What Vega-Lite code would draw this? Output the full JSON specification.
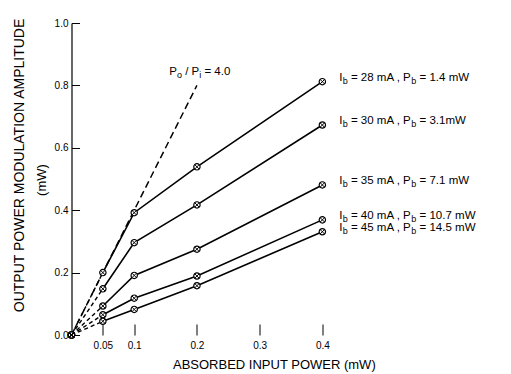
{
  "$schema": "https://vega.github.io/schema/vega-lite/v6.json",
  "width": 439,
  "height": 312,
  "autosize": {"type": "none"},
  "padding": {"left": 71.5, "top": 23, "right": 0.5, "bottom": 39},
  "background": "white",
  "config": {
    "view": {"stroke": null},
    "font": "Liberation Sans",
    "axis": {"grid": false, "labelFont": "Liberation Sans", "titleFont": "Liberation Sans", "labelColor": "black", "titleColor": "black", "tickColor": "black", "domainColor": "black"},
    "text": {"font": "Liberation Sans", "color": "black"}
  },
  "datasets": {
    "pts": [
      {"s": "28", "x": 0, "y": 0}, {"s": "28", "x": 0.05, "y": 0.200}, {"s": "28", "x": 0.1, "y": 0.392}, {"s": "28", "x": 0.2, "y": 0.539}, {"s": "28", "x": 0.4, "y": 0.812},
      {"s": "30", "x": 0, "y": 0}, {"s": "30", "x": 0.05, "y": 0.148}, {"s": "30", "x": 0.1, "y": 0.296}, {"s": "30", "x": 0.2, "y": 0.417}, {"s": "30", "x": 0.4, "y": 0.673},
      {"s": "35", "x": 0, "y": 0}, {"s": "35", "x": 0.05, "y": 0.093}, {"s": "35", "x": 0.1, "y": 0.191}, {"s": "35", "x": 0.2, "y": 0.275}, {"s": "35", "x": 0.4, "y": 0.481},
      {"s": "40", "x": 0, "y": 0}, {"s": "40", "x": 0.05, "y": 0.065}, {"s": "40", "x": 0.1, "y": 0.118}, {"s": "40", "x": 0.2, "y": 0.189}, {"s": "40", "x": 0.4, "y": 0.369},
      {"s": "45", "x": 0, "y": 0}, {"s": "45", "x": 0.05, "y": 0.044}, {"s": "45", "x": 0.1, "y": 0.082}, {"s": "45", "x": 0.2, "y": 0.158}, {"s": "45", "x": 0.4, "y": 0.331}
    ],
    "labels": [
      {"s": "28", "x": 0.4, "y": 0.812, "mid": "= 28 mA , P", "tail": "= 1.4 mW"},
      {"s": "30", "x": 0.4, "y": 0.673, "mid": "= 30 mA , P", "tail": "= 3.1mW"},
      {"s": "35", "x": 0.4, "y": 0.481, "mid": "= 35 mA , P", "tail": "= 7.1 mW"},
      {"s": "40", "x": 0.4, "y": 0.369, "mid": "= 40 mA , P", "tail": "= 10.7 mW"},
      {"s": "45", "x": 0.4, "y": 0.331, "mid": "= 45 mA , P", "tail": "= 14.5 mW"}
    ],
    "ratio": [{"x": 0, "y": 0}, {"x": 0.2, "y": 0.8}]
  },
  "encoding": {
    "x": {
      "field": "x", "type": "quantitative",
      "scale": {"domain": [0, 0.7], "nice": false, "zero": false},
      "axis": {
        "values": [0.05, 0.1, 0.2, 0.3, 0.4], "format": "~g", "domain": false,
        "tickSize": -11, "tickWidth": 1, "labelFontSize": 10, "labelPadding": 16,
        "title": "ABSORBED INPUT POWER (mW)", "titleFontSize": 13, "titleFontWeight": "normal",
        "titleX": 101, "titleY": 29.5, "titleAlign": "left", "titleBaseline": "middle"
      }
    },
    "y": {
      "field": "y", "type": "quantitative",
      "scale": {"domain": [0, 1], "nice": false},
      "axis": {
        "values": [0, 0.2, 0.4, 0.6, 0.8, 1.0], "format": ".1f", "domain": true, "domainWidth": 1.2,
        "tickSize": -8, "tickWidth": 1, "labelFontSize": 10, "labelPadding": 11.5,
        "title": "OUTPUT POWER MODULATION AMPLITUDE", "titleFontSize": 14, "titleFontWeight": "normal",
        "titleAngle": -90, "titleX": -52, "titleY": 142, "titleAlign": "center", "titleBaseline": "middle"
      }
    }
  },
  "layer": [
    {
      "data": {"values": [{}]},
      "mark": {"type": "rule", "color": "black", "strokeWidth": 1},
      "encoding": {"x": {"datum": 0, "type": "quantitative"}, "x2": {"datum": 0.7}, "y": {"datum": 1, "type": "quantitative"}}
    },
    {
      "data": {"values": [{}]},
      "mark": {"type": "rule", "color": "black", "strokeWidth": 1.2},
      "encoding": {"x": {"datum": 0, "type": "quantitative"}, "x2": {"datum": 0.46}, "y": {"datum": 0, "type": "quantitative"}}
    },
    {
      "data": {"name": "ratio"},
      "mark": {"type": "line", "color": "black", "strokeWidth": 1.5, "strokeDash": [7, 4]}
    },
    {
      "data": {"name": "pts"},
      "transform": [{"filter": "datum.x <= 0.05"}],
      "mark": {"type": "line", "color": "black", "strokeWidth": 1.4, "strokeDash": [4, 3]},
      "encoding": {"detail": {"field": "s"}}
    },
    {
      "data": {"name": "pts"},
      "transform": [{"filter": "datum.x >= 0.05"}],
      "mark": {"type": "line", "color": "black", "strokeWidth": 1.6},
      "encoding": {"detail": {"field": "s"}}
    },
    {
      "data": {"name": "pts"},
      "mark": {"type": "point", "shape": "circle", "filled": true, "fill": "white", "stroke": "black", "strokeWidth": 1.2, "size": 40, "opacity": 1}
    },
    {
      "data": {"name": "pts"},
      "mark": {"type": "point", "shape": "M-0.7,-0.7L0.7,0.7M-0.7,0.7L0.7,-0.7", "filled": false, "stroke": "black", "strokeWidth": 1, "size": 40, "opacity": 1}
    },
    {
      "data": {"name": "labels"},
      "mark": {"type": "text", "text": "I", "align": "left", "baseline": "middle", "dx": 17, "dy": -4, "fontSize": 11.5}
    },
    {
      "data": {"name": "labels"},
      "mark": {"type": "text", "text": "b", "align": "left", "baseline": "middle", "dx": 20.4, "dy": -1, "fontSize": 9}
    },
    {
      "data": {"name": "labels"},
      "mark": {"type": "text", "align": "left", "baseline": "middle", "dx": 28.6, "dy": -4, "fontSize": 11.5},
      "encoding": {"text": {"field": "mid"}}
    },
    {
      "data": {"name": "labels"},
      "mark": {"type": "text", "text": "b", "align": "left", "baseline": "middle", "dx": 89, "dy": -1, "fontSize": 9}
    },
    {
      "data": {"name": "labels"},
      "mark": {"type": "text", "align": "left", "baseline": "middle", "dx": 97.2, "dy": -4, "fontSize": 11.5},
      "encoding": {"text": {"field": "tail"}}
    },
    {
      "data": {"name": "ratio"},
      "transform": [{"filter": "datum.x == 0.2"}],
      "mark": {"type": "text", "text": "P", "align": "left", "baseline": "middle", "dx": -27.7, "dy": -13, "fontSize": 11.5}
    },
    {
      "data": {"name": "ratio"},
      "transform": [{"filter": "datum.x == 0.2"}],
      "mark": {"type": "text", "text": "o", "align": "left", "baseline": "middle", "dx": -20, "dy": -10, "fontSize": 9}
    },
    {
      "data": {"name": "ratio"},
      "transform": [{"filter": "datum.x == 0.2"}],
      "mark": {"type": "text", "text": "/ P", "align": "left", "baseline": "middle", "dx": -11.8, "dy": -13, "fontSize": 11.5}
    },
    {
      "data": {"name": "ratio"},
      "transform": [{"filter": "datum.x == 0.2"}],
      "mark": {"type": "text", "text": "i", "align": "left", "baseline": "middle", "dx": 2.3, "dy": -10, "fontSize": 9}
    },
    {
      "data": {"name": "ratio"},
      "transform": [{"filter": "datum.x == 0.2"}],
      "mark": {"type": "text", "text": "= 4.0", "align": "left", "baseline": "middle", "dx": 7.5, "dy": -13, "fontSize": 11.5}
    },
    {
      "data": {"name": "ratio"},
      "transform": [{"filter": "datum.x == 0"}],
      "mark": {"type": "text", "text": "(mW)", "align": "center", "baseline": "middle", "angle": 270, "dx": 155, "dy": -30, "fontSize": 13}
    }
  ]
}
